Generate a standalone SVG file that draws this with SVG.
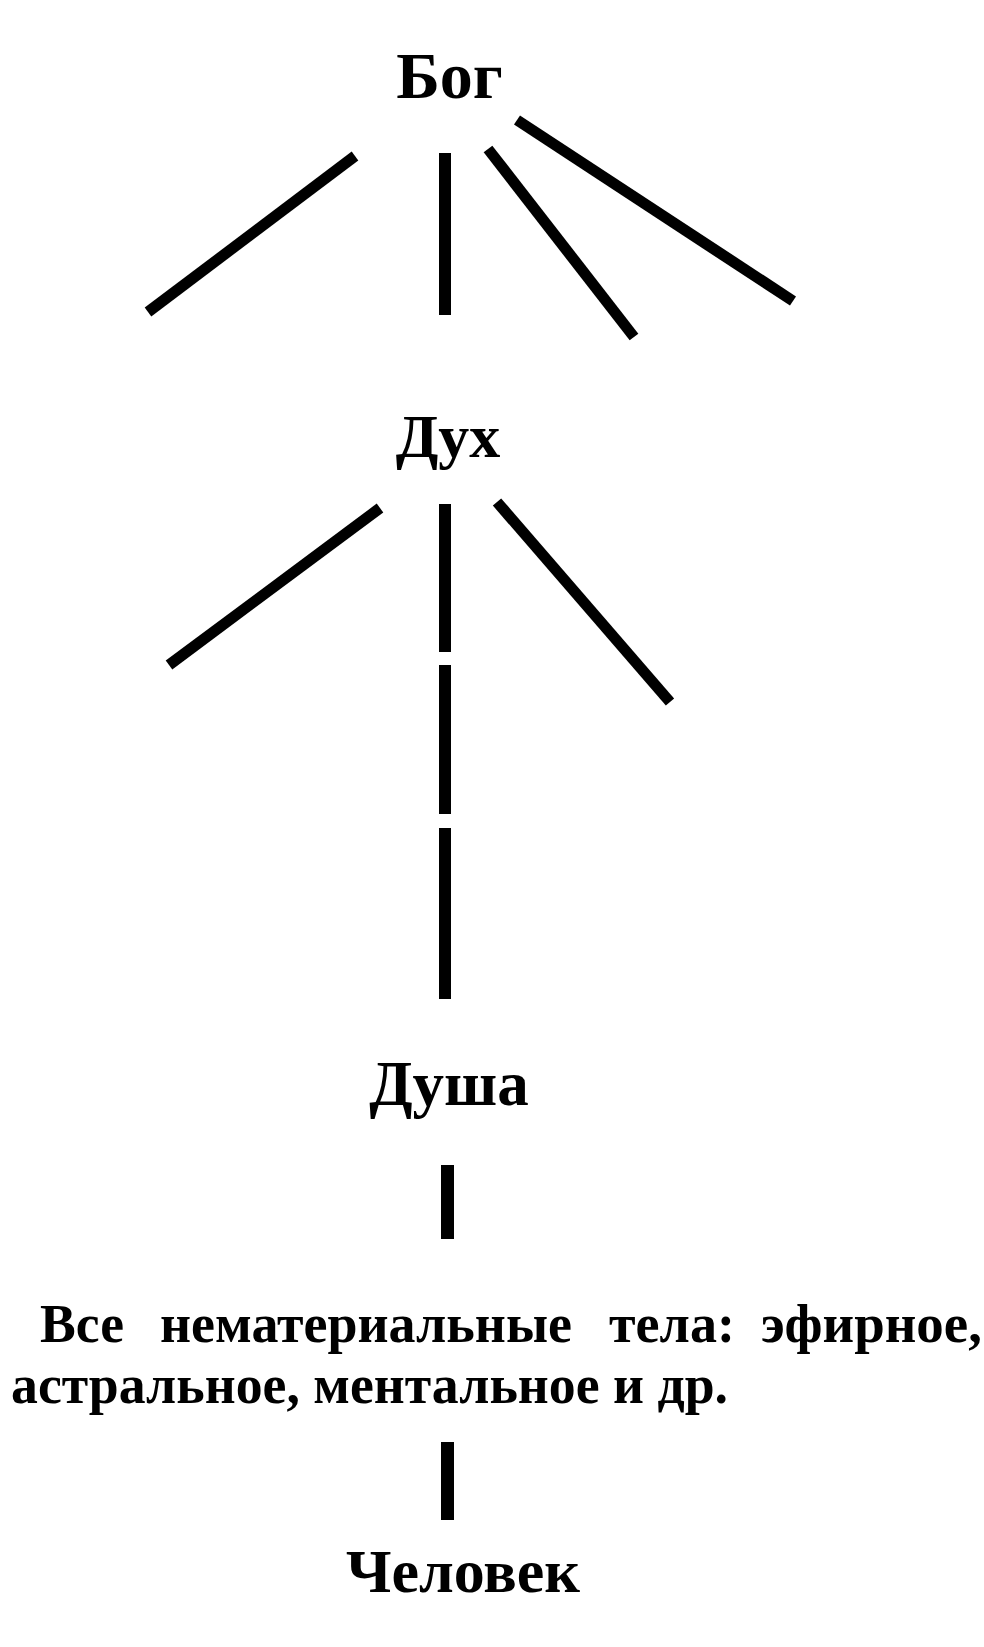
<svg xmlns="http://www.w3.org/2000/svg" width="984" height="1647" viewBox="0 0 984 1647">
<style>
text { font-family: "Liberation Serif", "Times New Roman", serif; font-weight: bold; fill: #000; }
.h { text-anchor: middle; }
.c line { stroke: #000; stroke-linecap: butt; }
.d { stroke-width: 11; }
.v { stroke-width: 12; }
.b { stroke-width: 13; }
</style>
<rect width="984" height="1647" fill="#fff"/>
<g id="connectors" class="c">
  <line class="d" x1="355" y1="156" x2="148" y2="312"/>
  <line class="v" x1="445" y1="153" x2="445" y2="315"/>
  <line class="d" x1="488" y1="149" x2="634" y2="337"/>
  <line class="d" x1="517" y1="120" x2="793" y2="301"/>
  <line class="d" x1="380" y1="508" x2="169" y2="665"/>
  <line class="v" x1="445" y1="504" x2="445" y2="652"/>
  <line class="v" x1="445" y1="665" x2="445" y2="814"/>
  <line class="v" x1="445" y1="828" x2="445" y2="999"/>
  <line class="d" x1="497" y1="502" x2="670" y2="702"/>
  <line class="b" x1="447.5" y1="1165" x2="447.5" y2="1239"/>
  <line class="b" x1="447.5" y1="1442" x2="447.5" y2="1520"/>
</g>
<g id="node-bog"><text class="h" x="449.5" y="98" font-size="66">Бог</text></g>
<g id="node-duh"><text class="h" x="448" y="457" font-size="62">Дух</text></g>
<g id="node-dusha"><text class="h" x="449" y="1105" font-size="63">Душа</text></g>
<g id="node-bodies">
  <text font-size="55" x="40" y="1342" textLength="84" lengthAdjust="spacingAndGlyphs">Все</text>
  <text font-size="55" x="160" y="1342" textLength="412" lengthAdjust="spacingAndGlyphs">нематериальные</text>
  <text font-size="55" x="609" y="1342" textLength="126" lengthAdjust="spacingAndGlyphs">тела:</text>
  <text font-size="55" x="761" y="1342" textLength="221" lengthAdjust="spacingAndGlyphs">эфирное,</text>
  <text font-size="55" x="11" y="1403" textLength="717" lengthAdjust="spacingAndGlyphs">астральное, ментальное и др.</text>
</g>
<g id="node-chelovek"><text class="h" x="463" y="1592" font-size="62">Человек</text></g>
</svg>
